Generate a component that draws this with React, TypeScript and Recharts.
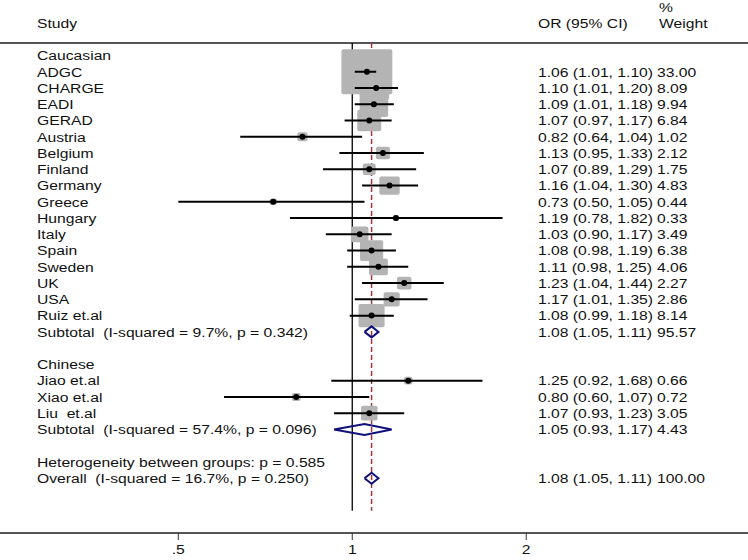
import React from 'react';
import { ScatterChart, Scatter, XAxis, YAxis, ReferenceLine } from 'recharts';

const FONT = '"Liberation Sans", Arial, sans-serif';
const SX = 1.18; // the source picture is stretched sideways

const cauNames = ['ADGC', 'CHARGE', 'EADI', 'GERAD', 'Austria', 'Belgium', 'Finland', 'Germany', 'Greece', 'Hungary', 'Italy', 'Spain', 'Sweden', 'UK', 'USA', 'Ruiz et.al'];
const cauOR = [1.06, 1.10, 1.09, 1.07, 0.82, 1.13, 1.07, 1.16, 0.73, 1.19, 1.03, 1.08, 1.11, 1.23, 1.17, 1.08];
const cauLo = [1.01, 1.01, 1.01, 0.97, 0.64, 0.95, 0.89, 1.04, 0.50, 0.78, 0.90, 0.98, 0.98, 1.04, 1.01, 0.99];
const cauHi = [1.10, 1.20, 1.18, 1.17, 1.04, 1.33, 1.29, 1.30, 1.05, 1.82, 1.17, 1.19, 1.25, 1.44, 1.35, 1.18];
const cauW = [33.00, 8.09, 9.94, 6.84, 1.02, 2.12, 1.75, 4.83, 0.44, 0.33, 3.49, 6.38, 4.06, 2.27, 2.86, 8.14];

const chiNames = ['Jiao et.al', 'Xiao et.al', 'Liu  et.al'];
const chiOR = [1.25, 0.80, 1.07];
const chiLo = [0.92, 0.60, 0.93];
const chiHi = [1.68, 1.07, 1.23];
const chiW = [0.66, 0.72, 3.05];

// pooled: [or, lo, hi, weight]
const cauSub = [1.08, 1.05, 1.11, 95.57];
const chiSub = [1.05, 0.93, 1.17, 4.43];
const overall = [1.08, 1.05, 1.11, 100.0];

const cauSubLabel = 'Subtotal  (I-squared = 9.7%, p = 0.342)';
const chiSubLabel = 'Subtotal  (I-squared = 57.4%, p = 0.096)';
const hetLabel = 'Heterogeneity between groups: p = 0.585';
const overallLabel = 'Overall  (I-squared = 16.7%, p = 0.250)';

const xTicks = [0.5, 1, 2];

type Row = { row: number; label: string; or?: number; lo?: number; hi?: number; w?: number; kind: 'title' | 'head' | 'study' | 'pool' };

const rows: Row[] = [];
let r = 0;
rows.push({ row: -2, label: 'Study', kind: 'title' });
rows.push({ row: r++, label: 'Caucasian', kind: 'head' });
cauNames.forEach((n, i) => rows.push({ row: r++, label: n, or: cauOR[i], lo: cauLo[i], hi: cauHi[i], w: cauW[i], kind: 'study' }));
rows.push({ row: r++, label: cauSubLabel, or: cauSub[0], lo: cauSub[1], hi: cauSub[2], w: cauSub[3], kind: 'pool' });
r++;
rows.push({ row: r++, label: 'Chinese', kind: 'head' });
chiNames.forEach((n, i) => rows.push({ row: r++, label: n, or: chiOR[i], lo: chiLo[i], hi: chiHi[i], w: chiW[i], kind: 'study' }));
rows.push({ row: r++, label: chiSubLabel, or: chiSub[0], lo: chiSub[1], hi: chiSub[2], w: chiSub[3], kind: 'pool' });
r++;
rows.push({ row: r++, label: hetLabel, kind: 'head' });
rows.push({ row: r++, label: overallLabel, or: overall[0], lo: overall[1], hi: overall[2], w: overall[3], kind: 'pool' });

const byRow = new Map(rows.map((d) => [d.row, d]));
const tickRows = rows.map((d) => d.row);
const studies = rows.filter((d) => d.kind === 'study').map((d) => ({ x: d.or!, y: d.row, w: d.w! }));
const pools = rows.filter((d) => d.kind === 'pool');

const ROW_TOP = -0.77; // separator under header
const ROW_END = 28; // end of vertical lines
const Y0 = -3.413;
const Y1 = 29.37;
const X0 = 0.2457;
const X1 = 4.84;

const txt = (x: number, y: number, s: string, size = 13.3) => (
  <text transform={`translate(${x},${y}) scale(${SX},1)`} dy="0.36em" fontSize={size} fontFamily={FONT} fill="#111" style={{ whiteSpace: 'pre' }}>
    {s}
  </text>
);

const LeftTick = (props: any) => {
  const d = byRow.get(props.payload.value);
  if (!d) return <g />;
  return txt(37, props.y, d.label);
};

const RightTick = (props: any) => {
  const d = byRow.get(props.payload.value);
  if (!d) return <g />;
  if (d.kind === 'title') {
    return (
      <g>
        {txt(538, props.y, 'OR (95% CI)')}
        {txt(659, props.y - 16, '%')}
        {txt(659, props.y, 'Weight')}
      </g>
    );
  }
  if (d.or === undefined) return <g />;
  return (
    <g>
      {txt(538, props.y, `${d.or.toFixed(2)} (${d.lo!.toFixed(2)}, ${d.hi!.toFixed(2)})`)}
      {txt(657, props.y, d.w!.toFixed(2))}
    </g>
  );
};

const XTick = (props: any) => {
  const v = props.payload.value;
  return (
    <text transform={`translate(${props.x},${props.y + 7}) scale(${SX},1)`} textAnchor="middle" dy="0.36em" fontSize={13.3} fontFamily={FONT} fill="#111">
      {v === 0.5 ? '.5' : String(v)}
    </text>
  );
};

const Box = (props: any) => {
  const { cx, cy, payload } = props;
  const s = Math.sqrt(payload.w);
  const w = 1.5 + 8.6 * s;
  const h = 1.5 + 7.6 * s;
  return <rect x={cx - w / 2} y={cy - h / 2} width={w} height={h} rx={2} fill="#b4b4b4" />;
};

const Dot = (props: any) => <circle cx={props.cx} cy={props.cy} r={3} fill="#000" />;
const None = () => <g />;

export default function App() {
  return (
    <div style={{ position: 'absolute', left: 0, top: 0, background: '#fff' }}>
      <ScatterChart width={748} height={560} margin={{ top: 0, right: -1, bottom: 0, left: -1 }}>
        <XAxis
          type="number"
          dataKey="x"
          scale="log"
          domain={[X0, X1]}
          allowDataOverflow
          ticks={xTicks}
          height={27}
          tickSize={7}
          axisLine={{ stroke: '#555', strokeWidth: 2 }}
          tickLine={{ stroke: '#333' }}
          tick={XTick}
        />
        <YAxis yAxisId="l" type="number" dataKey="y" domain={[Y0, Y1]} reversed allowDataOverflow ticks={tickRows} interval={0} tick={LeftTick} axisLine={false} tickLine={false} width={1} />
        <YAxis yAxisId="r" orientation="right" type="number" dataKey="y" domain={[Y0, Y1]} reversed allowDataOverflow ticks={tickRows} interval={0} tick={RightTick} axisLine={false} tickLine={false} width={1} />
        <ReferenceLine yAxisId="l" y={ROW_TOP} stroke="#555" strokeWidth={2} />
        <Scatter yAxisId="l" data={[{ x: 1, y: ROW_TOP }, { x: 1, y: ROW_END }]} line={{ stroke: '#000', strokeWidth: 1.3 }} lineType="joint" shape={<None />} isAnimationActive={false} />
        <Scatter
          yAxisId="l"
          data={[{ x: overall[0], y: ROW_TOP }, { x: overall[0], y: ROW_END }]}
          line={{ stroke: '#9b3a3a', strokeWidth: 1.5, strokeDasharray: '5 3' }}
          lineType="joint"
          shape={<None />}
          isAnimationActive={false}
        />
        <Scatter yAxisId="l" data={studies} shape={<Box />} isAnimationActive={false} />
        {rows
          .filter((d) => d.kind === 'study')
          .map((d) => (
            <Scatter
              key={'ci' + d.row}
              yAxisId="l"
              data={[{ x: d.lo!, y: d.row }, { x: d.hi!, y: d.row }]}
              line={{ stroke: '#000', strokeWidth: 2 }}
              lineType="joint"
              shape={<None />}
              isAnimationActive={false}
            />
          ))}
        <Scatter yAxisId="l" data={studies} shape={<Dot />} isAnimationActive={false} />
        {pools.map((d) => (
          <Scatter
            key={'dia' + d.row}
            yAxisId="l"
            data={[
              { x: d.lo!, y: d.row },
              { x: d.or!, y: d.row - 0.34 },
              { x: d.hi!, y: d.row },
              { x: d.or!, y: d.row + 0.34 },
              { x: d.lo!, y: d.row },
            ]}
            line={{ stroke: '#10107a', strokeWidth: 2 }}
            lineType="joint"
            shape={<None />}
            isAnimationActive={false}
          />
        ))}
      </ScatterChart>
    </div>
  );
}
